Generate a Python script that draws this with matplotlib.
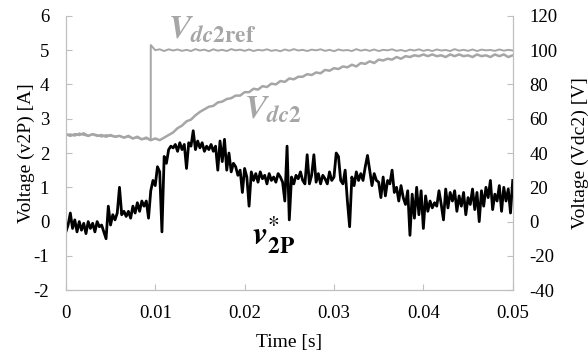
import numpy as np
import matplotlib.pyplot as plt

plt.rcParams['font.family'] = 'Liberation Serif'
plt.rcParams['mathtext.fontset'] = 'stix'
plt.rcParams['axes.unicode_minus'] = False

# v2P* (left axis), sampled every 0.25 ms
v2p = [-0.3, -0.1, 0.25, -0.2, 0.05, -0.3, 0.0, -0.25, -0.05, -0.35,
       0.0, -0.2, -0.05, -0.3, 0.0, -0.15, -0.1, -0.3, -0.5, 0.45,
       -0.1, 0.2, 0.05, 0.25, 1.0, 0.2, 0.3, 0.15, 0.3, 0.1,
       0.45, 0.25, 0.55, 0.3, 0.6, 0.45, 0.6, 0.1, 0.9, 1.2,
       1.05, 1.6, 1.45, -0.3, 1.9, 1.7, 2.1, 2.2, 2.15, 2.25,
       2.05, 2.3, 2.1, 2.25, 1.55, 2.3, 2.2, 2.65, 2.1, 2.35,
       2.15, 2.3, 2.05, 2.2, 2.1, 2.25, 2.05, 2.2, 1.5, 2.35,
       1.75, 2.4, 1.5, 2.0, 1.45, 1.7, 1.6, 1.35, 1.5, 0.85,
       1.55, 1.3, 0.45, 1.45, 1.2, 1.4, 1.15, 1.45, 1.25, 1.35,
       1.1, 1.4, 1.2, 1.3, 1.15, 1.4, 1.3, 1.15, 0.6, 2.2,
       0.05, 1.3, 1.1, 1.35, 1.25, 1.45, 1.2, 1.1, 1.95, 1.1,
       1.35, 1.95, 1.15, 1.4, 1.1, 1.35, 1.25, 1.1, 1.45, 1.2,
       1.3, 2.0, 1.9, 1.2, 1.1, 1.5, 0.6, -0.15, 1.3, 1.05,
       1.45, 1.2, 1.4, 1.2, 1.6, 1.93, 1.5, 1.05, 1.4, 1.2,
       1.15, 0.7, 1.3, 0.75, 1.2, 1.1, 1.5, 0.85, 1.0, 0.6,
       1.05, 0.7, 0.5, 0.9, -0.4, 0.8, 0.1, 1.0, 0.2, 0.9,
       -0.2, 0.75, 0.3, 0.6, 0.4, 0.55, 0.45, 0.9, 0.5, 0.05,
       0.95, 0.4, 0.85, 0.6, 0.9, 0.3, 0.75, 0.45, 0.85, 0.2,
       0.7, 0.5, 0.95, 0.35, 0.85, 0.0, 0.9, 0.45, 1.0, 0.7,
       1.2, 0.35, 0.8, 0.6, 1.05, 0.3, 1.0, 0.6, 0.95, 0.25,
       1.2]
t_v2p = np.linspace(0, 0.05, len(v2p))

# Vdc2 (right axis), sampled every 0.5 ms
vdc2 = [51, 50, 51, 50.5, 51.5, 50, 51, 50, 50.5, 49.5,
        50.5, 49.5, 50, 49, 50, 48.5, 49.5, 48, 49, 47.5,
        48.5, 47.5, 49, 50.5, 52, 54.5, 56, 58.5, 59.5, 62,
        64, 65.5, 67, 67.5, 69.5, 70, 71.5, 72, 73.5, 73.5,
        75.5, 75.5, 77.5, 77, 79, 78.5, 80.5, 80, 82, 81.5,
        83.5, 83, 84.5, 84.5, 86, 85.5, 87, 86.5, 88.5, 88,
        89.5, 89, 90.5, 90, 91.5, 90.5, 92.5, 92, 93.5, 92.5,
        94.5, 94, 95, 94.5, 96, 95, 96.5, 96, 97, 96.5,
        97.5, 96.5, 97.5, 96.5, 97, 96, 97.5, 96.5, 97.5, 96.5,
        97, 96, 97.5, 96.5, 97, 96, 97.5, 96.5, 97.5, 96,
        97]
t_vdc2 = np.linspace(0, 0.05, len(vdc2))

# Vdc2ref: before the step (0 .. 9.5 ms) and after it (9.5 .. 50 ms)
ref_before = [50.5, 51, 50, 51.5, 50.5, 50, 51, 50.5, 49.5, 50.5,
              50, 49.5, 50, 49, 49.5, 48.5, 49, 48, 48.5, 47.5]
ref_after = [103, 100, 100.5, 99.5, 100.5, 99.8, 100.4, 99.6, 100.2, 99.5,
             100.6, 99.8, 100.3, 99.4, 100.5, 99.7, 100.2, 99.5, 100.6, 99.9,
             100.3, 99.6, 100.4, 99.5, 100.2, 99.8, 100.5, 99.6, 100.1, 99.4,
             100.4, 99.7, 100.6, 99.8, 100.2, 99.5, 100.3, 99.9, 100.5, 99.6,
             100.2, 99.4, 100.4, 99.8, 100.1, 99.5, 100.6, 99.7, 100.3, 99.6,
             100.4, 99.5, 100.2, 99.9, 100.5, 99.6, 100.1, 99.4, 100.3, 99.8,
             100.5, 99.6, 100.2, 99.5, 100.4, 99.8, 100.1, 99.5, 100.6, 99.7,
             100.2, 99.6, 100.4, 99.5, 100.3, 99.9, 100.1, 99.6, 100.4, 99.7,
             100.2, 99.8]
t_ref = np.concatenate([np.linspace(0, 0.0095, len(ref_before)),
                        np.linspace(0.0095, 0.05, len(ref_after))])
vref = ref_before + ref_after

grey = '#a6a6a6'
axcol = '#bfbfbf'

fig = plt.figure(figsize=(5.88, 3.53), dpi=100)
ax = fig.add_axes([0.112, 0.178, 0.760, 0.777])
ax2 = ax.twinx()

ax2.plot(t_ref, vref, color=grey, lw=1.4)
ax2.plot(t_vdc2, vdc2, color=grey, lw=1.8)
ax.plot(t_v2p, v2p, color='black', lw=2.0)
ax.set_zorder(ax2.get_zorder() + 1)
ax.patch.set_visible(False)

ax.set_xlim(0, 0.05)
ax.set_ylim(-2, 6)
ax2.set_ylim(-40, 120)
ax.set_xticks([0, 0.01, 0.02, 0.03, 0.04, 0.05])
ax.set_xticklabels(['0', '0.01', '0.02', '0.03', '0.04', '0.05'])
ax.set_yticks(range(-2, 7))
ax2.set_yticks(range(-40, 121, 20))

for a in (ax, ax2):
    for s in a.spines.values():
        s.set_color(axcol)
    a.spines['top'].set_visible(False)
    a.tick_params(direction='in', color=axcol, length=4, labelsize=13.5)
ax.tick_params(axis='y', pad=12)
ax.tick_params(axis='x', pad=11)
ax2.tick_params(axis='y', pad=12)

ax.set_xlabel('Time [s]', fontsize=14, labelpad=8)
ax.set_ylabel('Voltage (v2P) [A]', fontsize=14, labelpad=-1)
ax2.set_ylabel('Voltage (Vdc2) [V]', fontsize=14, labelpad=10)

ax.text(0.0164, 5.58, r'$\mathbfit{V}_{\mathbfit{dc}\mathbf{2ref}}$',
        color=grey, fontsize=24, ha='center', va='center')
ax.text(0.0232, 3.24, r'$\mathbfit{V}_{\mathbfit{dc}\mathbf{2}}$',
        color=grey, fontsize=24, ha='center', va='center')
ax.text(0.0232, -0.4, r'$\mathbfit{v}^{*}_{\mathbf{2P}}$',
        color='black', fontsize=24, ha='center', va='center')

fig.savefig('out.png', dpi=100)
